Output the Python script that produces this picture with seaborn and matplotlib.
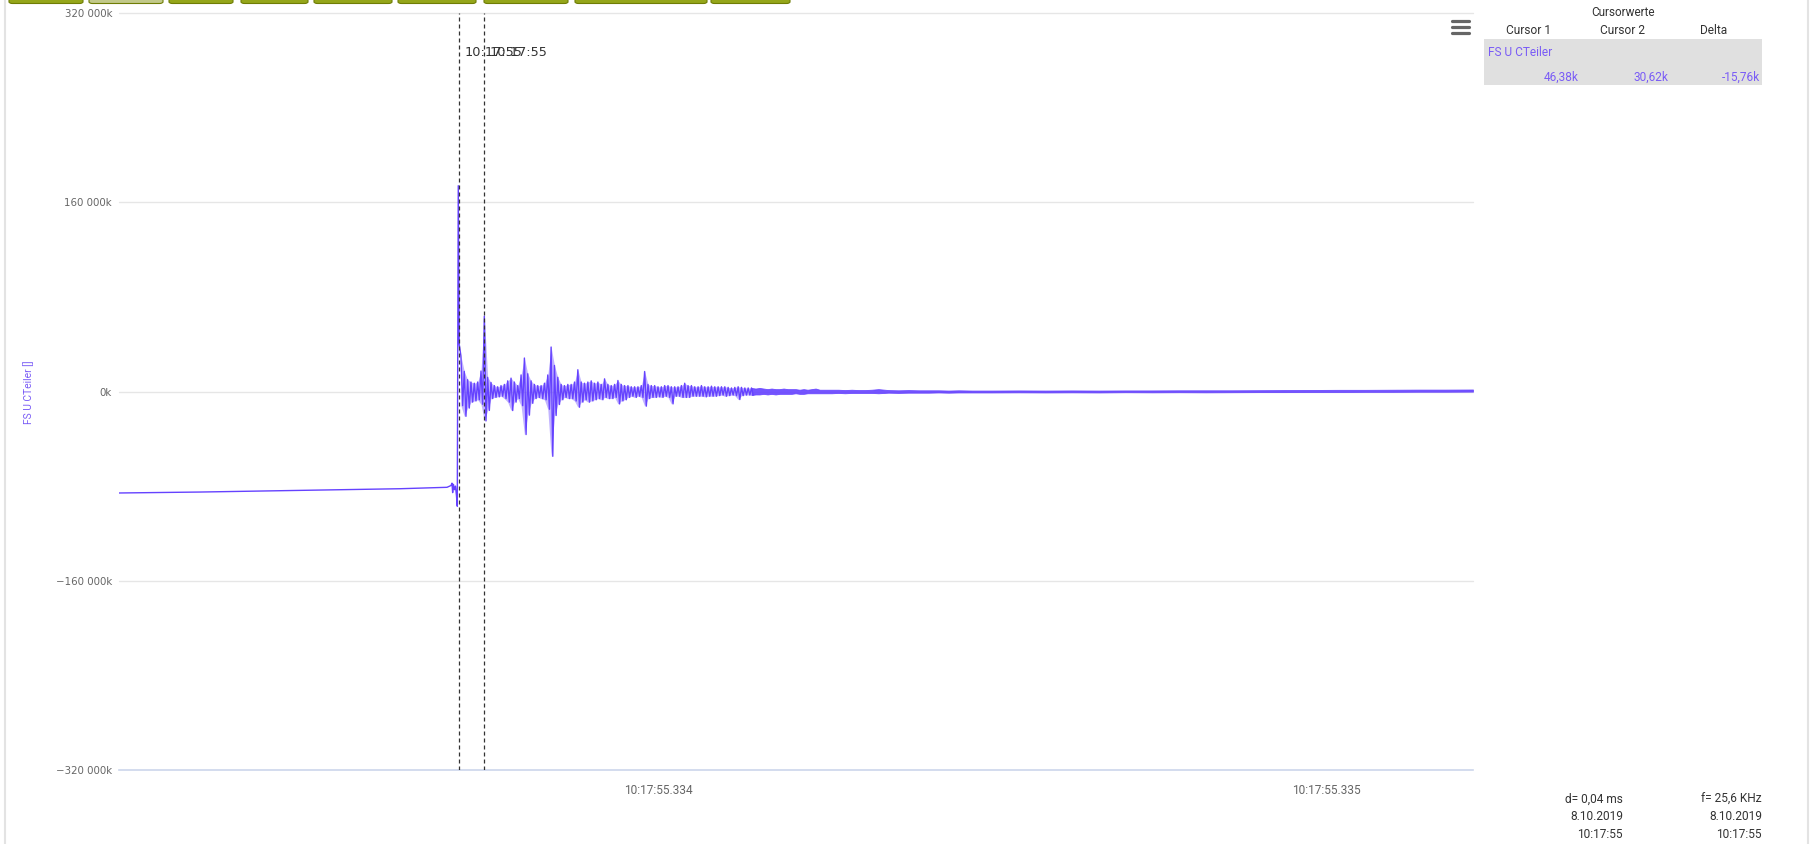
import matplotlib
matplotlib.use("Agg")
import matplotlib.pyplot as plt
import numpy as np
import pandas as pd
import seaborn as sns
from matplotlib.lines import Line2D
from matplotlib.patches import Rectangle, FancyBboxPatch

# ---------------------------------------------------------------------------
# Data: time in microseconds after 10:17:55.333, values in k-units
# ---------------------------------------------------------------------------
# pre-trigger level and the first transient (cursor 1)
pre_t = [193.1, 314.4, 464.1, 613.8, 684.1, 690.1, 691.6, 692.6, 693.8, 695.3,
         696.8, 698.3, 699.5, 701.0, 702.4]
pre_v = [-85800, -85000, -83600, -82200, -81000, -79500, -77500, -85500, -78500,
         -83000, -80000, -88000, -97000, 174000, 40000]

# oscillation after the trigger: local maxima / minima
burst_t = [705, 710, 715, 720, 725, 730, 735, 740, 745, 750,
           755, 760, 765, 770, 775, 780, 785, 790, 795, 800,
           805, 810, 815, 820, 825, 830, 835, 840, 845, 850,
           855, 860, 865, 870, 875, 880, 885, 890, 895, 900,
           905, 910, 915, 920, 925, 930, 935, 940, 945, 950,
           955, 960, 965, 970, 975, 980, 985, 990, 995, 1000,
           1005, 1010, 1015, 1020, 1025, 1030, 1035, 1040, 1045, 1050,
           1055, 1060, 1065, 1070, 1075, 1080, 1085, 1090, 1095, 1100,
           1105, 1110, 1115, 1120, 1125, 1130, 1135, 1140]
burst_hi = [30000, 17000, 10000, 8000, 7000, 8000, 17300, 63700, 12000, 7600,
            5000, 4000, 5000, 6000, 9000, 11300, 8000, 5000, 14000, 28300,
            15000, 9000, 6000, 5000, 5000, 7000, 14000, 37600, 22000, 12000,
            6000, 5000, 6000, 6000, 8000, 18400, 8000, 7000, 8000, 9000,
            7000, 8000, 6000, 10700, 6000, 5000, 6000, 9300, 6000, 5000,
            5000, 4000, 4000, 4000, 5000, 16900, 6000, 5000, 5000, 4000,
            4000, 5000, 5000, 4000, 4000, 4000, 5000, 7000, 5000, 5000,
            4000, 4000, 5000, 4000, 4000, 4500, 4000, 4000, 4000, 4000,
            3500, 3000, 3500, 4000, 3500, 3000, 3000, 3000]
burst_lo = [-12000, -21000, -14000, -9000, -8000, -7000, -10800, -24900, -16000, -6000,
            -5000, -4500, -4000, -6000, -9000, -16100, -9000, -6000, -12000, -36400,
            -20000, -10000, -6000, -5000, -6000, -7000, -15000, -54800, -20300, -11000,
            -7000, -5000, -6000, -6000, -8000, -13300, -9000, -7000, -9000, -8000,
            -7000, -6000, -7000, -5000, -6000, -6000, -5000, -10500, -8000, -7000,
            -5000, -4000, -5000, -4000, -5000, -12400, -6000, -5000, -5000, -4500,
            -5000, -4000, -5000, -10500, -4000, -4000, -5000, -5000, -5000, -4000,
            -4000, -4000, -4000, -4500, -4000, -4000, -4000, -3500, -3000, -4000,
            -3500, -3000, -3500, -6800, -3500, -3000, -3000, -3000]

# decaying residual noise band
tail_t = [1140, 1146, 1152, 1158, 1164, 1170, 1176, 1182, 1188, 1194, 1200,
          1206, 1212, 1218, 1224, 1230, 1236, 1242, 1250, 1260, 1270,
          1280, 1290, 1300, 1310, 1320, 1330, 1345, 1360, 1375, 1390,
          1405, 1420, 1435, 1450, 1470, 1500, 1540, 1580, 1620, 1660,
          1700, 1740, 1780, 1820, 1860, 1900, 1940, 1980, 2020, 2060,
          2100, 2140, 2180, 2220]
tail_hi = [3000, 2500, 3000, 2500, 2000, 2500, 2000, 2000, 2500, 2000, 2000,
           2000, 1500, 2000, 1500, 2000, 2500, 1500, 1500, 1500, 1500,
           1200, 1500, 1200, 1200, 1500, 2000, 1200, 1000, 1200, 1000,
           1000, 1000, 800, 1000, 800, 800, 900, 800, 900, 800,
           900, 900, 1000, 1000, 1000, 1100, 1200, 1300, 1400, 1400,
           1500, 1600, 1600, 1700]
tail_lo = [-3000, -2500, -2500, -2000, -2500, -2000, -2500, -2000, -2000, -2000, -2000,
           -1500, -2000, -2000, -1500, -1500, -1500, -1500, -1500, -1500, -1200,
           -1500, -1200, -1200, -1200, -1200, -1500, -1000, -1200, -1000, -1000,
           -1000, -800, -1000, -800, -800, -800, -700, -800, -700, -800,
           -600, -700, -600, -700, -600, -500, -500, -400, -400, -300,
           -300, -200, -200, -100]

series_name = "FS U CTeiler"
y_label = "FS U CTeiler []"
y_ticks = [-320000, -160000, 0, 160000, 320000]
y_tick_labels = ["\u2212320 000k", "\u2212160 000k", "0k", "160 000k", "320 000k"]
x_ticks = [1000, 2000]
x_tick_labels = ["10:17:55.334", "10:17:55.335"]
x_range = [193.1, 2220.1]

cursor_t = [702.1, 739.5]
cursor_label = "10:17:55"
table_title = "Cursorwerte"
table_cols = ["Cursor 1", "Cursor 2", "Delta"]
table_vals = ["46,38k", "30,62k", "-15,76k"]
footer_left = ["d= 0,04 ms", "8.10.2019", "10:17:55"]
footer_right = ["f= 25,6 KHz", "8.10.2019", "10:17:55"]
n_buttons = 9

# ---------------------------------------------------------------------------
def zigzag(ts, hi, lo):
    """Alternate through maxima and minima of an oscillating stretch."""
    out_t, out_v = [], []
    for i, t in enumerate(ts):
        step = (ts[i + 1] - t) if i + 1 < len(ts) else (t - ts[i - 1])
        out_t += [t, t + step / 2]
        out_v += [hi[i], lo[i]]
    return out_t, out_v


bt, bv = zigzag(burst_t, burst_hi, burst_lo)
df = pd.DataFrame({"t": list(pre_t) + bt, "v": list(pre_v) + bv})

W, H = 1814, 844
sns.set_theme(style="white")
plt.rcParams["font.family"] = ["DejaVu Sans"]

LINE = "#6542ff"
TXT_PURPLE = "#7a5cf6"
GRID = "#e6e6e6"
AXIS = "#ccd6eb"
UI = ["Roboto", "DejaVu Sans"]

fig = plt.figure(figsize=(W / 100, H / 100), dpi=100)
fig.patch.set_facecolor("white")


def fx(x):
    return x / W


def fy(y):
    return 1 - y / H


ax = fig.add_axes([fx(119), fy(770), (1473 - 119) / W, (770 - 13) / H])
ax.set_facecolor("white")

for yv in y_ticks[1:]:
    ax.axhline(yv, color=GRID, lw=1, zorder=0, clip_on=False)

# dense oscillation: filled envelope plus the trace itself
ax.fill_between(burst_t, burst_lo, burst_hi, color=LINE, alpha=0.4, lw=0, zorder=2)
ax.fill_between(tail_t, tail_lo, tail_hi, color=LINE, alpha=0.9, lw=0.6,
                edgecolor=LINE, zorder=2)
sns.lineplot(data=df, x="t", y="v", sort=False, estimator=None,
             color=LINE, linewidth=1.0, ax=ax, zorder=3, legend=False)

ax.set_xlim(*x_range)
ax.set_ylim(y_ticks[0], y_ticks[-1])

for s in ["top", "right", "left"]:
    ax.spines[s].set_visible(False)
ax.spines["bottom"].set_color(AXIS)
ax.spines["bottom"].set_linewidth(1.2)

ax.set_yticks(y_ticks)
ax.set_yticklabels(y_tick_labels, fontsize=7.4, color="#666666")
ax.tick_params(axis="y", length=0, pad=5)
ax.set_xticks(x_ticks)
ax.set_xticklabels(x_tick_labels, fontsize=8.6, color="#666666", family=UI)
ax.tick_params(axis="x", length=6, width=1, color=AXIS, pad=4, direction="out")
ax.set_xlabel("")
ax.set_ylabel("")

# cursors
for t in cursor_t:
    ax.axvline(t, color="#333333", lw=0.9, ls=(0, (3.2, 2.4)), zorder=4)
    ax.annotate(cursor_label, xy=(t, 1), xycoords=("data", "axes fraction"),
                xytext=(6, -39), textcoords="offset pixels", ha="left",
                va="center", fontsize=9.3, color="#333333", zorder=5)

fig.text(fx(29), fy(392), y_label, rotation=90, ha="center", va="center",
         fontsize=7.4, color=TXT_PURPLE, family=UI)

# menu icon
for yy in [20.7, 26.7, 32.7]:
    fig.add_artist(Line2D([fx(1452), fx(1469)], [fy(yy), fy(yy)], lw=2.3,
                          color="#666666", solid_capstyle="round"))

# cursor value table
fig.text(fx(1623), fy(12.5), table_title, ha="center", va="center",
         fontsize=8.5, color="#333333", family=UI)
for cx, label in zip([1529, 1622, 1714], table_cols):
    fig.text(fx(cx), fy(31), label, ha="center", va="center",
             fontsize=8.6, color="#333333", family=UI)
fig.add_artist(Rectangle((fx(1484), fy(85)), (1762 - 1484) / W, 46 / H,
                         transform=fig.transFigure, facecolor="#e0e0e0",
                         edgecolor="none"))
fig.text(fx(1488), fy(53), series_name, ha="left", va="center",
         fontsize=8.6, color=TXT_PURPLE, family=UI)
for rx, val in zip([1579, 1669, 1760], table_vals):
    fig.text(fx(rx), fy(77), val, ha="right", va="center",
             fontsize=8.6, color=TXT_PURPLE, family=UI)

# footer
for yy, a, b in zip([799, 817, 835], footer_left, footer_right):
    fig.text(fx(1623), fy(yy), a, ha="right", va="center", fontsize=8.6,
             color="#333333", family=UI)
    fig.text(fx(1762), fy(yy), b, ha="right", va="center", fontsize=8.6,
             color="#333333", family=UI)

# toolbar tabs along the top edge
tab_edges = [(9, 83), (89, 163), (169, 233), (241, 308), (314, 392),
             (398, 476), (484, 568), (575, 707), (711, 790)]
for i, (x0, x1) in enumerate(tab_edges[:n_buttons]):
    face = "#c2c98a" if i == 1 else "#95a61a"
    fig.add_artist(FancyBboxPatch((fx(x0), fy(3.5)), (x1 - x0) / W, 8 / H,
                                  boxstyle="round,pad=0,rounding_size=0.002",
                                  transform=fig.transFigure, facecolor=face,
                                  edgecolor="#6f7d05", lw=0.8))

# panel borders
fig.add_artist(Line2D([fx(5), fx(5)], [0, 1], color="#e3e3e3", lw=1.5))
fig.add_artist(Line2D([fx(1808), fx(1808)], [0, 1], color="#e3e3e3", lw=1.5))

fig.savefig("out.png", dpi=100, facecolor="white")
